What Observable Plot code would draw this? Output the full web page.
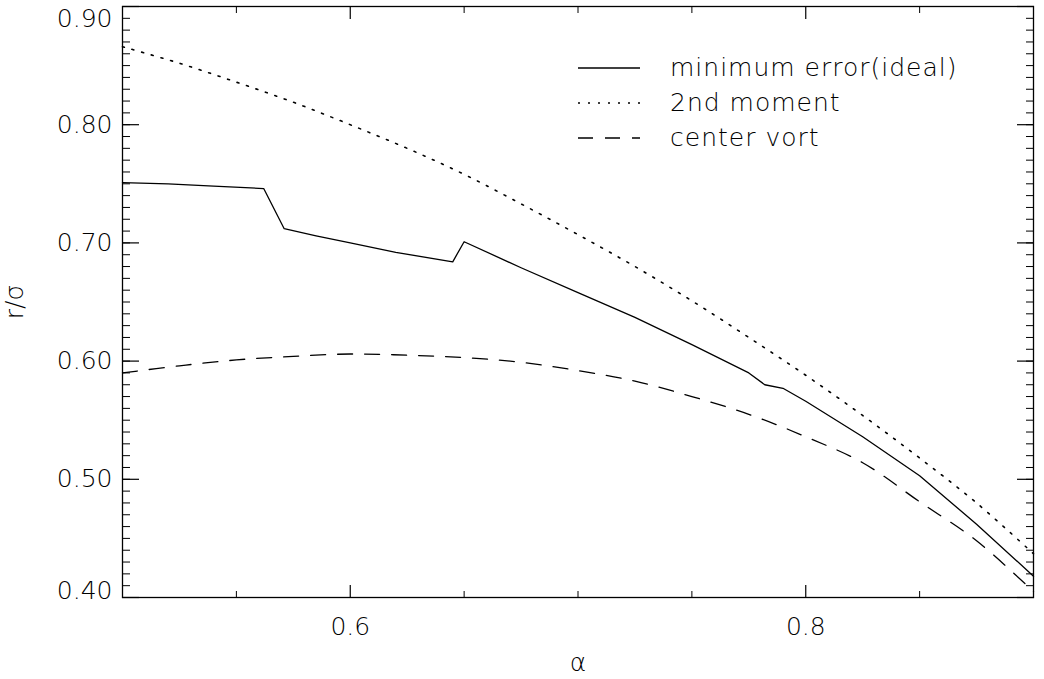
<!DOCTYPE html>
<html><head><meta charset="utf-8">
<script src="https://cdn.jsdelivr.net/npm/d3@7"></script>
<script src="https://cdn.jsdelivr.net/npm/@observablehq/plot@0.6"></script>
<style>
body{margin:0;background:#fff;}
#wrap{position:relative;width:1044px;height:679px;font-family:"DejaVu Sans",sans-serif;font-weight:200;color:#000;}
#legend{position:absolute;left:578px;top:50px;font-size:25px;letter-spacing:1px;}
#legend .row{display:flex;align-items:center;height:35px;}
#legend svg{width:62px;height:6px;margin-right:30px;overflow:visible;}
</style></head><body><div id="wrap"><div id="legend"></div></div>
<script>
// ---- data ----
const alphaMin = [0.500, 0.520, 0.540, 0.562, 0.571, 0.585, 0.600, 0.620, 0.645, 0.650, 0.675, 0.700, 0.725, 0.750, 0.775, 0.782, 0.790, 0.800, 0.825, 0.850, 0.875, 0.900];
const minError = [0.751, 0.750, 0.748, 0.746, 0.712, 0.706, 0.700, 0.692, 0.684, 0.701, 0.679, 0.658, 0.637, 0.614, 0.590, 0.580, 0.577, 0.566, 0.536, 0.503, 0.462, 0.418];

const alphaGrid = [0.500, 0.525, 0.550, 0.575, 0.600, 0.625, 0.650, 0.675, 0.700, 0.725, 0.750, 0.775, 0.800, 0.825, 0.850, 0.875, 0.900];
const secondMoment = [0.866, 0.852, 0.836, 0.819, 0.800, 0.780, 0.758, 0.733, 0.707, 0.680, 0.651, 0.620, 0.588, 0.554, 0.518, 0.480, 0.437];
const centerVort = [0.590, 0.596, 0.601, 0.604, 0.606, 0.605, 0.603, 0.599, 0.592, 0.583, 0.570, 0.555, 0.536, 0.514, 0.481, 0.448, 0.405];

const seriesNames = ["minimum error(ideal)", "2nd moment", "center vort"];
const seriesDash = [null, "2,8", "15,12"];

const yMajor = [0.4, 0.5, 0.6, 0.7, 0.8, 0.9];
const yMinor = d3.range(40, 91).map(d => d / 100);
const xMajor = [0.6, 0.8];
const xMinor = [0.55, 0.65, 0.7, 0.75, 0.85];

const minRows = alphaMin.map((a, i) => ({a, v: minError[i]}));
const momRows = alphaGrid.map((a, i) => ({a, v: secondMoment[i]}));
const vortRows = alphaGrid.map((a, i) => ({a, v: centerVort[i]}));

const fmtY = d3.format(".2f");
const fmtX = d3.format(".1f");
const sw = 1.3;

const chart = Plot.plot({
  width: 1044,
  height: 679,
  marginLeft: 122,
  marginRight: 11,
  marginTop: 6,
  marginBottom: 82,
  style: {fontFamily: '"DejaVu Sans", sans-serif', fontSize: "25px", fontWeight: 200, color: "#000", background: "#fff"},
  x: {domain: [0.5, 0.9]},
  y: {domain: [0.4, 0.9]},
  marks: [
    // inward ticks, y
    Plot.axisY(yMinor, {anchor: "left", tickSize: -8, fill: "none", label: null, strokeWidth: 1}),
    Plot.axisY(yMinor, {anchor: "right", tickSize: -8, fill: "none", label: null, strokeWidth: 1}),
    Plot.axisY(yMajor, {anchor: "left", tickSize: -17, fill: "none", label: null, strokeWidth: 1.2}),
    Plot.axisY(yMajor, {anchor: "right", tickSize: -17, fill: "none", label: null, strokeWidth: 1.2}),
    // inward ticks, x
    Plot.axisX(xMinor, {anchor: "bottom", tickSize: -6, fill: "none", label: null, strokeWidth: 1}),
    Plot.axisX(xMinor, {anchor: "top", tickSize: -6, fill: "none", label: null, strokeWidth: 1}),
    Plot.axisX(xMajor, {anchor: "bottom", tickSize: -12, fill: "none", label: null, strokeWidth: 1.2}),
    Plot.axisX(xMajor, {anchor: "top", tickSize: -12, fill: "none", label: null, strokeWidth: 1.2}),
    // tick labels
    Plot.axisY([0.5, 0.6, 0.7, 0.8], {anchor: "left", tickSize: 0, tickPadding: 10, tickFormat: fmtY, label: "r/σ", labelAnchor: "center", labelOffset: 117, labelArrow: "none"}),
    Plot.axisY([0.9], {anchor: "left", tickSize: 0, tickPadding: 10, tickFormat: fmtY, dy: 12, label: null}),
    Plot.axisY([0.4], {anchor: "left", tickSize: 0, tickPadding: 10, tickFormat: fmtY, dy: -7, label: null}),
    Plot.axisX(xMajor, {anchor: "bottom", tickSize: 0, tickPadding: 20, tickFormat: fmtX, label: "α", labelAnchor: "center", labelOffset: 73, labelArrow: "none"}),
    Plot.frame({stroke: "#000", strokeWidth: sw}),
    // series
    Plot.line(minRows, {x: "a", y: "v", stroke: "#000", strokeWidth: sw}),
    Plot.line(momRows, {x: "a", y: "v", stroke: "#000", strokeWidth: 1.6, strokeDasharray: seriesDash[1], curve: "catmull-rom"}),
    Plot.line(vortRows, {x: "a", y: "v", stroke: "#000", strokeWidth: sw, strokeDasharray: seriesDash[2], curve: "catmull-rom"})
  ]
});
document.getElementById("wrap").prepend(chart);

// legend
const legend = document.getElementById("legend");
seriesNames.forEach((name, i) => {
  const row = document.createElement("div");
  row.className = "row";
  const dash = seriesDash[i] ? ` stroke-dasharray="${seriesDash[i]}"` : "";
  row.innerHTML = `<svg viewBox="0 0 62 6"><line x1="0" y1="3" x2="62" y2="3" stroke="#000" stroke-width="${i === 1 ? 1.6 : 1.3}"${dash}/></svg><span>${name}</span>`;
  legend.appendChild(row);
});
</script>
</body></html>
